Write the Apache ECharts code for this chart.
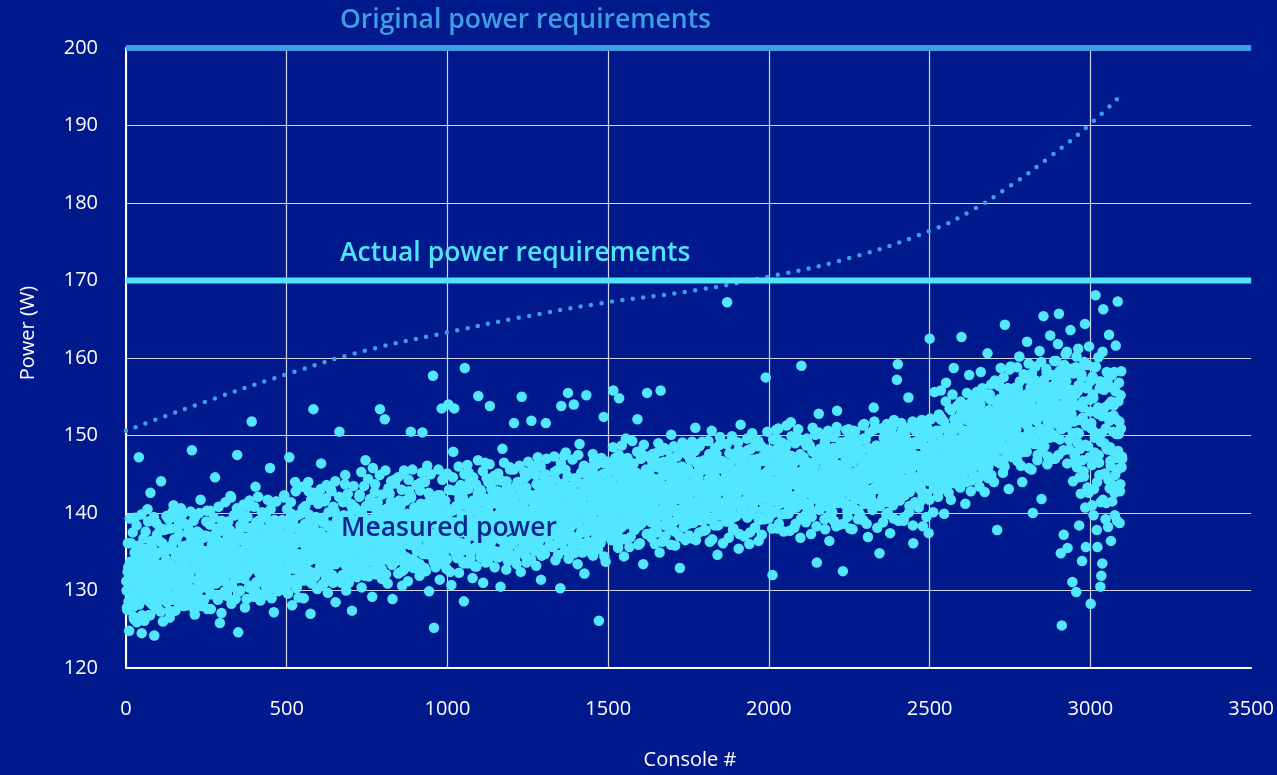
<!DOCTYPE html>
<html>
<head>
<meta charset="utf-8">
<script src="https://cdn.jsdelivr.net/npm/echarts@6/dist/echarts.min.js"></script>
<style>
  html, body { margin: 0; padding: 0; background: #00198c; }
  #chart { width: 1277px; height: 775px; }
</style>
</head>
<body>
<div id="chart"></div>
<script>
// Axis ranges and tick labels
const consoleTicks = [0, 500, 1000, 1500, 2000, 2500, 3000, 3500];
const powerTicks = [120, 130, 140, 150, 160, 170, 180, 190, 200];

// Power limits (W)
const originalRequirement = 200;
const actualRequirement = 170;

// Reference trend curve (console #, W)
const trendConsoles = [0, 250, 500, 750, 1000, 1250, 1500, 1750, 2000, 2250, 2500, 2625, 2750, 2875, 3000, 3090];
const trendPower = [150.6, 154.4, 157.9, 161.0, 163.3, 165.4, 167.2, 168.6, 170.5, 172.9, 176.4, 178.9, 182.2, 186.0, 190.2, 193.7];

// Measured power per console (W). Three interleaved runs:
// run A: consoles #1, #4, #7 ...  run B: #2, #5, #8 ...  run C: #3, #6, #9 ...
const consoleStep = 3;
const firstConsoleA = 1;
const measuredPowerA = [
  131.2,127.5,133.0,124.8,130.4,136.1,129.0,132.6,126.3,139.4,130.8,125.9,134.2,147.2,128.6,131.9,124.5,135.3,129.7,133.8,
  137.6,129.4,140.5,126.8,132.3,142.6,130.1,128.2,135.0,124.2,133.6,138.7,127.9,131.0,136.4,129.8,144.1,132.7,126.0,134.9,
  130.3,137.9,128.5,133.4,139.2,126.5,131.6,135.8,129.1,141.0,133.0,127.4,136.6,130.7,138.3,132.1,128.9,134.5,139.8,131.4,
  129.6,135.2,133.9,131.0,137.4,128.4,134.7,130.2,148.1,136.0,132.8,126.9,139.6,133.5,129.3,135.9,131.7,141.7,128.0,134.1,
  136.8,130.5,133.3,138.9,127.6,134.6,131.9,140.3,129.5,135.5,132.4,137.1,144.6,130.9,133.7,128.8,136.3,125.8,134.0,139.0,
  131.3,135.7,129.9,138.1,133.2,136.9,130.6,134.4,142.2,128.3,135.1,132.0,139.7,131.5,137.3,147.5,124.6,133.9,130.0,136.5,
  133.6,139.3,131.8,127.8,136.2,134.8,140.8,130.4,135.6,132.9,151.8,137.7,129.2,134.3,143.4,131.1,136.8,133.1,138.5,128.7,
  135.4,131.6,137.9,133.0,129.4,140.0,134.9,132.2,136.4,145.8,130.3,138.2,133.7,127.2,135.8,141.5,132.6,136.9,130.8,134.6,
  138.6,132.5,135.3,130.1,142.0,134.0,137.2,131.2,136.5,147.2,133.4,139.9,128.1,135.0,132.8,144.0,136.1,130.6,134.7,138.0,
  131.9,136.7,134.1,140.6,129.0,135.9,133.3,138.4,131.4,142.8,136.3,127.0,134.5,139.1,153.4,132.3,137.5,135.2,130.2,141.2,
  136.0,133.1,146.4,130.7,135.4,138.8,132.7,141.9,134.3,129.7,137.0,135.7,143.1,131.3,136.6,133.8,140.2,128.5,135.1,138.1,
  134.2,150.5,137.4,131.0,139.5,135.8,133.5,144.9,130.0,136.9,134.6,141.3,132.4,138.3,127.4,136.2,133.0,140.7,135.3,131.7,
  137.1,133.2,142.4,135.5,130.4,139.0,136.8,132.1,146.8,134.4,138.5,131.8,136.3,140.9,133.9,129.2,137.8,135.0,143.7,132.6,
  135.7,139.8,133.4,153.4,137.2,131.5,140.4,136.0,152.1,134.1,138.6,130.9,136.7,142.5,133.7,137.9,128.9,135.2,144.3,139.3,
  134.8,137.6,132.2,141.6,136.5,139.1,130.6,135.9,145.5,133.3,138.0,136.1,131.2,142.8,137.3,150.5,134.0,139.6,132.9,136.8,
  138.2,133.6,140.1,136.9,131.9,143.9,135.3,150.4,137.6,132.5,139.4,134.7,146.1,136.2,129.9,141.1,135.8,138.9,157.7,125.2,
  135.1,139.7,133.9,142.3,137.4,131.4,136.3,153.5,138.4,134.5,144.8,136.7,132.8,140.6,154.0,135.6,138.8,130.7,137.0,147.9,
  153.5,136.4,140.9,134.2,138.1,132.3,143.4,137.5,135.1,141.8,128.6,158.7,136.0,139.2,133.5,145.2,137.9,134.9,140.3,131.6,
  138.7,135.4,141.4,133.1,137.7,155.1,136.6,143.0,134.6,139.8,131.0,137.0,146.5,135.9,140.4,133.8,138.3,153.8,136.2,142.1,
  135.2,139.5,133.0,144.2,137.3,141.2,134.3,138.6,130.5,136.8,148.3,139.0,135.7,142.7,132.7,137.9,140.0,134.8,145.6,138.1,
  136.5,140.7,151.6,134.1,139.3,137.2,143.6,135.0,141.0,132.4,155.0,138.4,136.0,144.5,139.7,133.6,137.5,142.4,135.5,140.2,
  151.9,137.0,141.7,135.4,139.9,133.2,146.2,138.0,136.4,142.9,131.4,139.4,137.8,144.0,134.7,151.6,140.5,136.9,138.8,143.3,
  137.3,141.5,135.6,139.6,145.3,133.9,138.5,142.0,136.1,140.8,130.3,153.8,139.1,137.6,147.4,135.2,141.2,138.2,155.5,136.7,
  140.1,137.1,143.5,135.8,154.0,139.6,136.6,141.8,133.4,138.9,148.9,137.4,142.6,134.9,140.4,132.2,139.2,155.2,136.3,144.6,
  138.4,142.3,136.2,140.7,134.5,146.8,139.0,137.7,143.8,135.3,126.1,141.1,138.6,136.8,145.0,152.4,139.8,133.7,141.9,137.9,
  141.4,138.3,144.1,136.5,142.5,155.8,139.5,147.1,137.2,143.0,135.5,154.8,140.6,138.1,145.7,141.8,134.4,140.0,149.6,139.3,
  142.2,138.7,144.8,136.9,141.0,139.2,146.4,137.8,143.3,140.5,152.1,135.9,141.6,148.0,138.9,143.9,133.4,140.8,145.2,142.7,
  155.5,139.1,143.4,141.3,137.4,145.9,140.1,142.8,136.0,147.7,141.9,138.5,144.3,134.9,155.8,142.0,139.7,146.6,140.9,137.0,
  143.2,139.8,145.4,141.5,137.9,150.1,142.4,140.3,144.7,135.8,141.8,147.3,139.4,143.6,132.9,142.9,146.0,140.6,138.2,144.0,
  140.9,145.1,142.3,138.6,148.5,143.7,141.1,136.7,144.9,139.9,151.0,142.7,140.0,146.3,137.5,143.1,141.6,149.2,139.0,145.6,
  142.8,139.3,146.9,141.0,144.4,136.3,143.5,150.6,140.7,145.8,138.4,142.1,147.6,134.6,143.8,141.4,139.7,146.2,144.1,140.2,
  143.0,146.5,140.4,167.2,142.6,138.9,145.3,141.8,149.9,137.8,144.6,142.2,139.6,147.1,143.4,135.4,141.5,151.4,144.8,140.5,
  145.0,141.2,147.8,143.3,139.4,144.2,136.0,146.0,142.5,150.3,140.8,143.9,138.1,145.7,142.0,148.6,139.1,144.5,141.7,137.2,
  143.8,140.6,146.7,157.5,142.9,145.4,139.3,148.1,141.4,144.0,132.0,143.2,147.4,140.2,145.9,138.0,150.9,142.7,144.8,139.8,
  146.1,142.4,144.4,139.9,148.8,143.0,141.0,145.6,137.7,151.7,143.7,140.9,146.8,142.2,138.6,144.7,149.5,141.3,143.5,136.8,
  159.0,143.8,141.5,146.3,139.7,144.9,142.6,149.0,140.4,145.2,137.3,143.4,147.9,141.9,146.6,144.2,133.6,142.9,152.8,140.7,
  144.5,141.4,147.2,143.6,139.2,145.8,142.1,150.0,144.1,136.4,146.5,142.8,140.1,148.4,143.1,145.3,138.3,153.2,141.6,144.9,
  145.6,142.5,148.9,132.5,144.2,141.1,146.9,143.9,139.5,150.8,144.6,142.3,147.5,137.9,145.1,143.2,141.8,149.3,144.0,140.3,
  143.6,147.0,141.7,145.9,139.1,151.5,144.3,142.0,146.2,136.9,144.8,148.3,142.7,145.5,140.6,153.6,143.3,146.7,141.2,144.1,
  146.0,134.8,143.0,148.6,141.9,145.0,143.7,150.4,139.8,146.9,142.4,144.6,137.4,147.8,145.3,141.0,152.0,143.8,146.3,157.2,
  159.2,144.9,141.6,147.6,143.1,145.7,139.0,149.9,144.2,146.5,142.8,154.9,140.9,145.1,148.0,143.5,136.1,146.8,144.4,151.2,
  146.3,143.3,149.4,141.4,147.3,145.6,138.3,151.9,144.7,148.2,142.5,146.9,137.4,162.5,145.2,149.7,143.9,147.6,155.6,144.0,
  148.4,145.0,150.6,142.9,147.2,152.3,144.6,149.3,139.9,146.7,156.8,143.4,148.9,145.8,151.0,141.7,147.7,144.3,158.7,146.2,
  149.5,146.1,151.8,143.8,148.6,154.4,162.7,145.3,150.2,147.4,141.2,152.8,148.0,145.6,157.8,149.0,144.2,153.6,147.8,150.7,
  150.3,146.6,153.1,148.9,144.5,151.4,158.2,147.2,155.0,149.6,142.7,152.2,148.3,160.6,146.0,150.9,154.6,144.9,149.2,152.9,
  151.6,148.0,154.3,137.8,150.6,156.9,146.4,152.5,149.9,145.2,155.7,164.3,150.1,147.3,153.9,143.1,151.2,158.9,148.7,154.1,
  152.0,148.4,156.2,150.8,146.7,153.5,160.2,149.3,155.1,144.0,151.7,157.5,147.9,152.7,162.1,150.2,145.8,154.8,149.0,158.0,
  140.0,153.2,149.7,157.1,151.9,147.5,155.4,160.9,150.4,141.8,154.0,165.4,148.6,152.6,158.6,146.3,156.0,150.9,162.9,153.8,
  154.9,150.1,159.6,147.0,156.7,152.3,161.8,165.7,149.5,134.8,125.5,157.4,137.2,153.0,160.5,151.1,135.5,155.9,148.2,163.6,
  152.8,131.1,158.0,146.5,155.3,129.8,150.4,161.2,138.4,148.3,156.4,133.8,153.6,144.7,164.4,135.6,151.5,159.1,142.6,154.6,
  128.3,150.9,157.6,139.7,147.8,168.1,153.1,135.6,160.1,144.9,130.5,131.9,133.5,166.3,149.0,156.9,141.3,152.4,138.2,163.0,
  148.5,136.4,157.8,143.6,153.9,139.7,161.6,147.1,167.3,150.2,138.7,155.2,145.9
];
const firstConsoleB = 2;
const measuredPowerB = [
  130.0,132.4,128.6,131.5,133.7,129.3,131.0,127.9,132.9,130.6,134.6,129.0,131.8,128.2,133.1,130.2,126.8,132.1,129.7,131.3,
  132.6,129.9,134.2,131.1,128.5,133.0,130.4,135.4,129.2,132.0,127.6,131.6,134.8,130.0,132.7,128.9,131.9,136.1,130.8,133.5,
  131.2,134.0,129.5,132.6,135.5,130.7,133.3,128.8,132.0,136.4,131.5,134.4,129.9,133.1,130.3,135.0,132.4,128.2,133.9,131.0,
  133.4,130.8,135.8,132.2,129.4,134.5,131.5,136.7,132.9,130.1,134.1,128.7,133.0,135.3,131.2,137.4,132.6,130.3,134.8,131.9,
  132.0,135.1,130.6,133.7,137.0,131.4,134.3,129.7,133.2,136.0,130.9,134.8,132.5,138.0,131.1,133.9,129.2,135.6,132.8,134.4,
  134.0,131.3,136.2,133.1,129.8,135.3,132.4,137.8,133.6,130.7,135.9,132.0,134.7,128.9,136.8,133.3,131.6,135.0,138.4,132.7,
  133.2,136.4,131.5,134.9,138.2,132.3,135.6,130.4,134.1,137.1,132.8,135.2,129.6,136.9,133.7,131.0,135.8,139.0,132.5,134.4,
  135.0,132.1,136.7,133.4,130.6,137.5,134.2,131.7,135.5,138.6,133.0,136.0,131.3,134.8,137.9,132.6,135.3,129.9,136.4,133.8,
  133.9,137.2,131.8,135.4,138.9,132.7,136.1,130.8,134.6,137.6,133.3,136.8,131.2,135.9,139.5,133.5,130.3,136.5,134.2,137.9,
  136.3,133.0,137.9,134.5,131.4,138.6,135.3,132.6,136.9,139.8,133.9,137.0,130.9,135.8,138.2,134.1,136.6,132.2,139.3,135.4,
  134.4,137.5,132.5,135.9,139.4,133.6,136.7,131.6,135.2,138.3,133.1,136.4,140.2,134.7,131.0,137.3,135.6,133.4,138.7,136.0,
  136.6,133.8,138.5,135.1,132.0,139.7,136.2,134.0,137.6,131.3,135.4,138.9,133.2,136.9,140.6,134.6,137.2,132.8,135.8,139.1,
  135.2,138.4,133.3,136.5,140.0,134.1,137.4,131.9,135.9,139.2,133.7,136.8,132.4,138.0,135.0,141.1,134.4,137.1,133.0,136.3,
  137.3,134.5,139.1,136.0,132.7,140.4,137.0,134.9,138.3,132.1,136.4,139.8,134.2,137.7,141.5,135.5,138.6,133.6,136.7,140.2,
  135.7,139.0,133.9,137.2,140.9,134.8,138.1,132.6,136.5,139.6,134.3,137.5,133.1,138.8,135.9,142.0,136.2,134.0,139.3,137.0,
  138.0,135.1,139.8,136.7,133.4,141.2,137.6,135.3,139.0,132.9,137.1,140.5,134.7,138.4,142.3,136.1,139.5,134.4,137.3,140.8,
  136.6,140.0,134.8,138.3,141.8,135.6,139.1,133.5,137.4,140.6,135.2,138.6,134.0,139.8,136.9,143.0,137.8,135.4,140.3,138.1,
  138.8,135.9,140.5,137.5,134.3,141.9,138.6,136.1,139.7,133.7,137.9,141.2,135.5,139.2,143.1,137.0,140.1,135.0,138.2,141.6,
  137.6,141.0,135.6,139.1,142.6,136.5,140.2,134.3,138.3,141.5,136.0,139.6,134.9,140.8,137.8,144.0,138.7,136.3,141.3,139.0,
  139.6,136.7,141.4,138.2,135.0,142.8,139.5,137.0,140.6,134.5,138.7,142.0,136.4,140.2,144.1,137.9,141.1,135.9,139.0,142.5,
  138.4,141.8,136.4,140.0,143.5,137.4,141.0,135.2,139.2,142.4,136.9,140.5,135.6,141.7,138.6,144.8,139.6,137.2,142.2,139.8,
  140.4,137.5,142.3,139.0,135.9,143.7,140.3,137.8,141.5,135.4,139.6,142.9,137.1,141.0,145.0,138.8,142.0,136.7,139.9,143.3,
  139.3,142.6,137.3,140.9,144.4,138.2,141.8,136.1,140.1,143.2,137.7,141.3,136.5,142.5,139.5,145.6,140.4,138.0,143.0,140.7,
  141.2,138.3,143.0,139.8,136.7,144.5,141.1,138.7,142.3,136.2,140.4,143.8,137.9,141.9,145.9,139.6,142.8,137.5,140.8,144.1,
  140.0,143.4,138.1,141.6,145.2,139.0,142.6,136.9,140.9,144.0,138.5,142.1,137.3,143.3,140.3,146.4,141.2,138.8,143.8,141.5,
  142.2,139.3,144.0,140.8,137.7,145.5,142.1,139.7,143.3,137.2,141.4,144.8,138.9,142.9,146.9,140.6,143.8,138.5,141.8,145.1,
  141.2,144.5,139.3,142.7,146.3,140.1,143.7,138.0,142.0,145.1,139.6,143.2,138.4,144.4,141.4,147.5,142.3,139.9,144.9,142.6,
  143.3,140.4,145.1,141.9,138.8,146.6,143.2,140.8,144.4,138.3,142.5,145.9,140.0,144.0,148.0,141.7,144.9,139.6,142.9,146.2,
  142.0,145.3,140.1,143.5,147.1,140.9,144.5,138.8,142.8,145.9,140.4,144.0,139.2,145.2,142.2,148.3,143.1,140.7,145.7,143.4,
  143.9,141.0,145.7,142.5,139.4,147.2,143.8,141.4,145.0,138.9,143.1,146.5,140.6,144.6,148.6,142.3,145.5,140.2,143.5,146.8,
  142.5,145.8,140.6,144.0,147.6,141.4,145.0,139.3,143.3,146.4,140.9,144.5,139.7,145.7,142.7,148.8,143.6,141.2,146.2,143.9,
  144.4,141.5,146.2,143.0,139.9,147.7,144.3,141.9,145.5,139.4,143.6,147.0,141.1,145.1,149.1,142.8,146.0,140.7,144.0,147.3,
  143.0,146.3,141.1,144.5,148.1,141.9,145.5,139.8,143.8,146.9,141.4,145.0,140.2,146.2,143.2,149.3,144.1,141.7,146.7,144.4,
  144.9,142.0,146.7,143.5,140.4,148.2,144.8,142.4,146.0,139.9,144.1,147.5,141.6,145.6,149.6,143.3,146.5,141.2,144.5,147.8,
  143.5,146.8,141.6,145.0,148.6,142.4,146.0,140.3,144.3,147.4,141.9,145.5,140.7,146.7,143.7,149.8,144.6,142.2,147.2,144.9,
  145.4,142.5,147.2,144.0,140.9,148.7,145.3,142.9,146.5,140.4,144.6,148.0,142.1,146.1,150.1,143.8,147.0,141.7,145.0,148.3,
  144.0,147.3,142.1,145.5,149.1,142.9,146.5,140.8,144.8,147.9,142.4,146.0,141.2,147.2,144.2,150.3,145.1,142.7,147.7,145.4,
  145.9,143.0,147.7,144.5,141.4,149.2,145.8,143.4,147.0,140.9,145.1,148.5,142.6,146.6,150.6,144.3,147.5,142.2,145.5,148.8,
  144.5,147.8,142.6,146.0,149.6,143.4,147.0,141.3,145.3,148.4,142.9,146.5,141.7,147.7,144.7,150.8,145.6,143.2,148.2,145.9,
  146.4,143.5,148.2,145.0,141.9,149.7,146.3,143.9,147.5,141.4,145.6,149.0,143.1,147.1,151.1,144.8,148.0,142.7,146.0,149.3,
  145.5,148.8,143.6,147.0,150.6,144.4,148.0,142.3,146.3,149.4,143.9,147.5,142.7,148.7,145.7,151.8,146.6,144.2,149.2,146.9,
  147.4,144.5,149.2,146.0,142.9,150.7,147.3,144.9,148.5,142.4,146.6,150.0,144.1,148.1,152.1,145.8,149.0,143.7,147.0,150.3,
  147.0,150.3,145.1,148.5,152.1,145.9,149.5,143.8,147.8,150.9,145.4,149.0,144.2,150.2,147.2,153.3,148.1,145.7,150.7,148.4,
  149.4,146.5,151.2,148.0,144.9,152.7,149.3,146.9,150.5,144.4,148.6,152.0,146.1,150.1,154.1,147.8,151.0,145.7,149.0,152.3,
  149.0,152.3,147.1,150.5,154.1,147.9,151.5,145.8,149.8,152.9,147.4,151.0,146.2,152.2,149.2,155.3,150.1,147.7,152.7,150.4,
  151.4,148.5,153.2,150.0,146.9,154.7,151.3,148.9,152.5,146.4,150.6,154.0,148.1,152.1,156.1,149.8,153.0,147.7,151.0,154.3,
  151.0,154.3,149.1,152.5,156.1,149.9,153.5,147.8,151.8,154.9,149.4,153.0,148.2,154.2,151.2,157.3,152.1,149.7,154.7,152.4,
  153.4,150.5,155.2,152.0,148.9,156.7,153.3,150.9,154.5,148.4,152.6,156.0,150.1,154.1,158.1,151.8,155.0,149.7,153.0,156.3,
  154.5,157.8,152.6,156.0,159.6,153.4,157.0,151.3,155.3,158.4,152.9,156.5,151.7,157.7,154.7,160.8,155.6,153.2,158.2,155.9,
  155.2,150.3,158.6,147.4,153.9,160.2,149.1,156.5,144.6,152.0,157.9,146.8,154.4,159.5,140.7,151.3,156.2,148.6,161.5,153.1,
  151.0,146.2,155.3,143.1,149.7,158.9,137.8,152.8,147.5,156.1,141.4,150.3,160.8,145.0,153.6,139.2,148.4,157.0,144.3,151.9,
  146.7,154.4,141.5,150.5,158.2,144.9,152.1,139.0,148.0,156.8,142.8,150.9,147.3
];
const firstConsoleC = 3;
const measuredPowerC = [
  127.8,136.1,131.6,139.3,133.7,129.2,137.5,126.6,134.9,132.4,138.4,130.3,135.8,128.4,133.2,139.8,131.1,136.7,126.1,134.2,
  135.4,128.9,138.9,132.1,126.8,136.4,133.5,130.7,139.5,128.0,134.6,137.2,129.6,132.9,138.1,127.3,135.0,131.5,137.8,130.0,
  133.6,139.6,130.4,135.3,127.4,138.0,132.9,140.1,129.1,136.6,131.8,134.9,139.3,128.5,137.3,133.2,140.6,130.8,135.7,128.0,
  138.6,131.1,134.3,128.1,137.9,132.3,140.2,129.7,135.0,139.0,127.5,136.2,133.5,137.6,130.1,140.0,131.5,134.6,128.7,136.9,
  128.8,137.1,132.6,140.3,134.7,130.2,138.5,127.6,135.9,133.4,139.4,131.3,136.8,129.4,134.2,140.8,132.1,137.7,127.1,135.2,
  137.9,131.4,141.4,134.6,129.3,138.9,136.0,133.2,142.0,130.5,137.1,139.7,132.1,135.4,140.6,129.8,137.5,134.0,140.3,132.5,
  135.1,141.1,131.9,136.8,128.9,139.5,134.4,141.6,130.6,138.1,133.3,136.4,140.8,130.0,138.8,134.7,142.1,132.3,137.2,129.5,
  140.1,132.6,135.8,129.6,139.4,133.8,141.7,131.2,136.5,140.5,129.0,137.7,135.0,139.1,131.6,141.5,133.0,136.1,130.2,138.4,
  130.8,139.1,134.6,142.3,136.7,132.2,140.5,129.6,137.9,135.4,141.4,133.3,138.8,131.4,136.2,142.8,134.1,139.7,129.1,137.2,
  139.9,133.4,143.4,136.6,131.3,140.9,138.0,135.2,144.0,132.5,139.1,141.7,134.1,137.4,142.6,131.8,139.5,136.0,142.3,134.5,
  137.1,143.1,133.9,138.8,130.9,141.5,136.4,143.6,132.6,140.1,135.3,138.4,142.8,132.0,140.8,136.7,144.1,134.3,139.2,131.5,
  142.1,134.6,137.8,131.6,141.4,135.8,143.7,133.2,138.5,142.5,131.0,139.7,137.0,141.1,133.6,143.5,135.0,138.1,132.2,140.4,
  133.8,142.1,137.6,145.3,139.7,135.2,143.5,132.6,140.9,138.4,144.4,136.3,141.8,134.4,139.2,145.8,137.1,142.7,132.1,140.2,
  141.4,134.9,144.9,138.1,132.8,142.4,139.5,136.7,145.5,134.0,140.6,143.2,135.6,138.9,144.1,133.3,141.0,137.5,143.8,136.0,
  138.6,144.6,135.4,140.3,132.4,143.0,137.9,145.1,134.1,141.6,136.8,139.9,144.3,133.5,142.3,138.2,145.6,135.8,140.7,133.0,
  143.6,136.1,139.3,133.1,142.9,137.3,145.2,134.7,140.0,144.0,132.5,141.2,138.5,142.6,135.1,145.0,136.5,139.6,133.7,141.9,
  133.0,140.7,135.8,145.6,138.2,142.3,133.5,144.3,139.9,136.8,141.6,134.1,145.1,137.9,143.0,132.4,140.3,135.4,144.6,138.6,
  142.9,134.7,140.6,137.5,146.0,136.1,143.6,139.5,142.2,133.5,145.0,141.0,135.7,146.2,138.3,143.9,134.1,140.3,137.1,144.6,
  141.2,133.1,143.7,138.1,146.8,140.2,135.4,142.8,137.3,145.4,139.4,141.9,133.6,144.5,136.2,140.7,146.3,138.6,143.1,134.8,
  137.0,144.8,138.5,142.0,134.3,145.1,139.9,136.6,144.2,141.6,135.0,146.5,137.7,140.5,143.4,133.8,139.1,145.9,135.9,142.4,
  139.6,145.6,136.4,141.3,133.4,144.0,138.9,146.1,135.1,142.6,137.8,140.9,145.3,134.5,143.3,139.2,146.6,136.8,141.7,134.0,
  145.6,138.1,141.3,135.1,144.9,139.3,147.2,136.7,142.0,146.0,134.5,143.2,140.5,144.6,137.1,147.0,138.5,141.6,135.7,143.9,
  135.8,144.1,139.6,147.3,141.7,137.2,145.5,134.6,142.9,140.4,146.4,138.3,143.8,136.4,141.2,147.8,139.1,144.7,134.1,142.2,
  143.4,136.9,146.9,140.1,134.8,144.4,141.5,138.7,147.5,136.0,142.6,145.2,137.6,140.9,146.1,135.3,143.0,139.5,145.8,138.0,
  135.0,142.7,137.8,147.6,140.2,144.3,135.5,146.3,141.9,138.8,143.6,136.1,147.1,139.9,145.0,134.4,142.3,137.4,146.6,140.6,
  145.4,137.2,143.1,140.0,148.5,138.6,146.1,142.0,144.7,136.0,147.5,143.5,138.2,148.7,140.8,146.4,136.6,142.8,139.6,147.1,
  143.7,135.6,146.2,140.6,149.3,142.7,137.9,145.3,139.8,147.9,141.9,144.4,136.1,147.0,138.7,143.2,148.8,141.1,145.6,137.3,
  139.5,147.3,141.0,144.5,136.8,147.6,142.4,139.1,146.7,144.1,137.5,149.0,140.2,143.0,145.9,136.3,141.6,148.4,138.4,144.9,
  142.1,148.1,138.9,143.8,135.9,146.5,141.4,148.6,137.6,145.1,140.3,143.4,147.8,137.0,145.8,141.7,149.1,139.3,144.2,136.5,
  147.6,140.1,143.3,137.1,146.9,141.3,149.2,138.7,144.0,148.0,136.5,145.2,142.5,146.6,139.1,149.0,140.5,143.6,137.7,145.9,
  137.8,146.1,141.6,149.3,143.7,139.2,147.5,136.6,144.9,142.4,148.4,140.3,145.8,138.4,143.2,149.8,141.1,146.7,136.1,144.2,
  145.4,138.9,148.9,142.1,136.8,146.4,143.5,140.7,149.5,138.0,144.6,147.2,139.6,142.9,148.1,137.3,145.0,141.5,147.8,140.0,
  137.0,144.7,139.8,149.6,142.2,146.3,137.5,148.3,143.9,140.8,145.6,138.1,149.1,141.9,147.0,136.4,144.3,139.4,148.6,142.6,
  147.4,139.2,145.1,142.0,150.5,140.6,148.1,144.0,146.7,138.0,149.5,145.5,140.2,150.7,142.8,148.4,138.6,144.8,141.6,149.1,
  145.7,137.6,148.2,142.6,151.3,144.7,139.9,147.3,141.8,149.9,143.9,146.4,138.1,149.0,140.7,145.2,150.8,143.1,147.6,139.3,
  141.5,149.3,143.0,146.5,138.8,149.6,144.4,141.1,148.7,146.1,139.5,151.0,142.2,145.0,147.9,138.3,143.6,150.4,140.4,146.9,
  144.1,150.1,140.9,145.8,137.9,148.5,143.4,150.6,139.6,147.1,142.3,145.4,149.8,139.0,147.8,143.7,151.1,141.3,146.2,138.5,
  149.1,141.6,144.8,138.6,148.4,142.8,150.7,140.2,145.5,149.5,138.0,146.7,144.0,148.1,140.6,150.5,142.0,145.1,139.2,147.4,
  139.8,148.1,143.6,151.3,145.7,141.2,149.5,138.6,146.9,144.4,150.4,142.3,147.8,140.4,145.2,151.8,143.1,148.7,138.1,146.2,
  147.4,140.9,150.9,144.1,138.8,148.4,145.5,142.7,151.5,140.0,146.6,149.2,141.6,144.9,150.1,139.3,147.0,143.5,149.8,142.0,
  139.0,146.7,141.8,151.6,144.2,148.3,139.5,150.3,145.9,142.8,147.6,140.1,151.1,143.9,149.0,138.4,146.3,141.4,150.6,144.6,
  148.9,140.7,146.6,143.5,152.0,142.1,149.6,145.5,148.2,139.5,151.0,147.0,141.7,152.2,144.3,149.9,140.1,146.3,143.1,150.6,
  150.2,142.1,152.7,147.1,155.8,149.2,144.4,151.8,146.3,154.4,148.4,150.9,142.6,153.5,145.2,149.7,155.3,147.6,152.1,143.8,
  146.0,153.8,147.5,151.0,143.3,154.1,148.9,145.6,153.2,150.6,144.0,155.5,146.7,149.5,152.4,142.8,148.1,154.9,144.9,151.4,
  149.6,155.6,146.4,151.3,143.4,154.0,148.9,156.1,145.1,152.6,147.8,150.9,155.3,144.5,153.3,149.2,156.6,146.8,151.7,144.0,
  157.1,149.6,152.8,146.6,156.4,150.8,158.7,148.2,153.5,157.5,146.0,154.7,152.0,156.1,148.6,158.5,150.0,153.1,147.2,155.4,
  147.3,155.6,151.1,158.8,153.2,148.7,157.0,146.1,154.4,151.9,157.9,149.8,155.3,147.9,152.7,159.3,150.6,156.2,145.6,153.7,
  155.4,148.9,158.9,152.1,146.8,156.4,153.5,150.7,159.5,148.0,154.6,157.2,149.6,152.9,158.1,147.3,155.0,151.5,157.8,150.0,
  147.0,154.7,149.8,159.6,152.2,156.3,147.5,158.3,153.9,150.8,155.6,148.1,159.1,151.9,157.0,146.4,154.3,149.4,158.6,152.6,
  154.8,144.1,151.8,147.7,158.8,145.9,155.7,150.3,153.9,142.5,157.5,152.3,145.4,159.1,148.8,156.1,143.3,151.4,147.2,157.0,
  151.6,141.0,154.8,147.5,158.8,150.3,144.0,153.6,146.5,157.0,149.2,152.5,141.7,155.9,145.1,150.9,158.2,148.2,154.0,143.2,
  146.1,156.2,148.0,152.6,142.6,155.7,150.2,145.6,154.4,151.8,143.7,158.3,147.0
];

// Colours
const bgColor = '#00198c';
const measuredColor = '#52e6ff';
const originalColor = '#3f9de4';
const actualColor = '#4fe4fb';
const gridColor = '#d2d5ea';
const font = '"Open Sans", "Noto Sans", sans-serif';

const xMin = consoleTicks[0];
const xMax = consoleTicks[consoleTicks.length - 1];
const toPoints = (values, first) => values.map((w, i) => [first + i * consoleStep, w]);
const measuredData = toPoints(measuredPowerA, firstConsoleA)
  .concat(toPoints(measuredPowerB, firstConsoleB))
  .concat(toPoints(measuredPowerC, firstConsoleC));
const trendData = trendConsoles.map((c, i) => [c, trendPower[i]]);

// hide the split line at the right edge (x = 3500)
const xSplitColors = consoleTicks.map((t, i) => (i === consoleTicks.length - 1 ? 'rgba(0,0,0,0)' : gridColor));

const chart = echarts.init(document.getElementById('chart'), null, { renderer: 'canvas' });
chart.setOption({
  backgroundColor: bgColor,
  animation: false,
  grid: { left: 126, right: 25, top: 48, bottom: 107, containLabel: false },
  xAxis: {
    type: 'value',
    min: xMin,
    max: xMax,
    interval: consoleTicks[1] - consoleTicks[0],
    axisLine: { show: true, lineStyle: { color: '#ffffff', width: 2 } },
    axisTick: { show: false },
    axisLabel: { color: '#ffffff', fontSize: 20, fontFamily: font, margin: 31, formatter: v => String(v) },
    splitLine: { show: true, lineStyle: { color: xSplitColors, width: 1.2 } }
  },
  yAxis: {
    type: 'value',
    min: powerTicks[0],
    max: powerTicks[powerTicks.length - 1],
    interval: powerTicks[1] - powerTicks[0],
    axisLine: { show: true, lineStyle: { color: '#ffffff', width: 2 } },
    axisTick: { show: false },
    axisLabel: { color: '#ffffff', fontSize: 20, fontFamily: font, margin: 28, formatter: v => String(v) },
    splitLine: { show: true, lineStyle: { color: gridColor, width: 1.2 } }
  },
  series: [
    {
      name: 'Measured power',
      type: 'scatter',
      data: measuredData,
      symbol: 'circle',
      symbolSize: 10.5,
      large: false,
      progressive: 100000,
      progressiveThreshold: 100000,
      itemStyle: { color: measuredColor, opacity: 1 },
      z: 2
    },
    {
      name: 'Trend',
      type: 'line',
      data: trendData,
      smooth: true,
      showSymbol: false,
      lineStyle: { color: originalColor, width: 4.5, type: [0, 10.5], cap: 'round' },
      z: 3
    },
    {
      name: 'Actual power requirements',
      type: 'line',
      data: [[xMin, actualRequirement], [xMax, actualRequirement]],
      showSymbol: false,
      lineStyle: { color: actualColor, width: 6 },
      z: 4
    },
    {
      name: 'Original power requirements',
      type: 'line',
      data: [[xMin, originalRequirement], [xMax, originalRequirement]],
      showSymbol: false,
      lineStyle: { color: originalColor, width: 6 },
      z: 4
    }
  ],
  graphic: {
    zlevel: 1,
    z: 100,
    elements: [
      {
        type: 'text', x: 340, y: 20, z: 10,
        style: { text: 'Original power requirements', fill: originalColor, font: '600 26.5px ' + font, align: 'left', verticalAlign: 'middle' }
      },
      {
        type: 'text', x: 340, y: 253, z: 10,
        style: { text: 'Actual power requirements', fill: actualColor, font: '600 26.5px ' + font, align: 'left', verticalAlign: 'middle' }
      },
      {
        type: 'text', x: 341, y: 528, z: 10,
        style: { text: 'Measured power', fill: '#0a2590', font: '600 26.5px ' + font, align: 'left', verticalAlign: 'middle' }
      },
      {
        type: 'text', x: 28, y: 333, rotation: Math.PI / 2, z: 10,
        style: { text: 'Power (W)', fill: '#ffffff', font: '20px ' + font, align: 'center', verticalAlign: 'middle' }
      },
      {
        type: 'text', x: 690, y: 760, z: 10,
        style: { text: 'Console #', fill: '#ffffff', font: '20px ' + font, align: 'center', verticalAlign: 'middle' }
      }
    ]
  }
});
</script>
</body>
</html>
